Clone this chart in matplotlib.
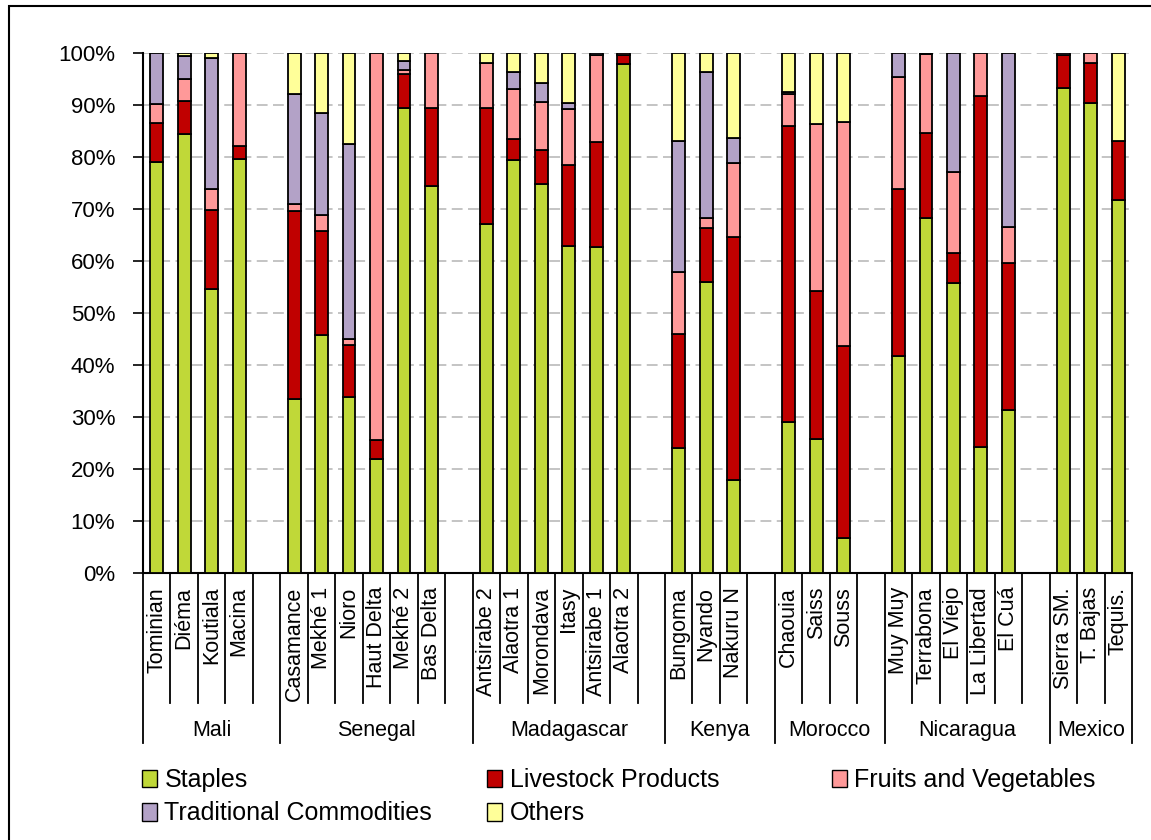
import numpy as np
import matplotlib
matplotlib.use("Agg")
import matplotlib.pyplot as plt
from matplotlib.patches import Rectangle, Patch
import matplotlib.transforms as mtransforms

plt.rcParams['font.family'] = ['Liberation Sans', 'DejaVu Sans']

countries = ["Mali", "Senegal", "Madagascar", "Kenya", "Morocco", "Nicaragua", "Mexico"]
group_sizes = [4, 6, 6, 3, 3, 5, 3]
regions = ["Tominian", "Diéma", "Koutiala", "Macina",
           "Casamance", "Mekhé 1", "Nioro", "Haut Delta", "Mekhé 2", "Bas Delta",
           "Antsirabe 2", "Alaotra 1", "Morondava", "Itasy", "Antsirabe 1", "Alaotra 2",
           "Bungoma", "Nyando", "Nakuru N",
           "Chaouia", "Saiss", "Souss",
           "Muy Muy", "Terrabona", "El Viejo", "La Libertad", "El Cuá",
           "Sierra SM.", "T. Bajas", "Tequis."]

staples = [79.0, 84.5, 54.6, 79.7,
           33.5, 45.7, 33.9, 22.0, 89.4, 74.5,
           67.1, 79.4, 74.9, 62.9, 62.7, 97.8,
           24.0, 56.0, 17.9,
           29.0, 25.8, 6.7,
           41.8, 68.2, 55.8, 24.3, 31.3,
           93.2, 90.4, 71.7]
livestock = [7.6, 6.3, 15.3, 2.4,
             36.1, 20.1, 10.0, 3.6, 6.5, 15.0,
             22.4, 4.1, 6.5, 15.5, 20.2, 1.8,
             21.9, 10.4, 46.8,
             56.9, 28.5, 36.9,
             32.0, 16.4, 5.8, 67.5, 28.3,
             6.4, 7.7, 11.4]
fruits_veg = [3.5, 4.2, 3.9, 17.9,
              1.4, 3.1, 1.1, 74.4, 0.9, 10.5,
              8.6, 9.5, 9.1, 10.8, 16.7, 0.4,
              11.9, 1.9, 14.1,
              6.3, 32.0, 43.1,
              21.6, 15.2, 15.6, 8.2, 7.0,
              0.0, 1.9, 0.0]
traditional = [9.9, 4.5, 25.3, 0.0,
               21.2, 19.5, 37.5, 0.0, 1.7, 0.0,
               0.0, 3.3, 3.8, 1.1, 0.4, 0.0,
               25.3, 28.0, 4.9,
               0.3, 0.0, 0.0,
               4.6, 0.2, 22.8, 0.0, 33.4,
               0.4, 0.0, 0.0]
others = [0.0, 0.5, 0.9, 0.0,
          7.8, 11.6, 17.5, 0.0, 1.5, 0.0,
          1.9, 3.7, 5.7, 9.7, 0.0, 0.0,
          16.9, 3.7, 16.3,
          7.5, 13.7, 13.3,
          0.0, 0.0, 0.0, 0.0, 0.0,
          0.0, 0.0, 16.9]

series = [("Staples", staples, "#C0D838"),
          ("Livestock Products", livestock, "#C00000"),
          ("Fruits and Vegetables", fruits_veg, "#FF9999"),
          ("Traditional Commodities", traditional, "#B3A2C7"),
          ("Others", others, "#FFFF99")]

# slot positions: one empty slot after every country group
xpos = []
group_edges = [-0.5]
slot = 0
for n in group_sizes:
    xpos += list(range(slot, slot + n))
    slot += n + 1
    group_edges.append(slot - 0.5)
nslots = slot - 1
group_edges[-1] = nslots - 0.5
xpos = np.array(xpos)

W, H = 1151, 840
fig = plt.figure(figsize=(W / 100, H / 100), dpi=100)
ax = fig.add_axes([143 / W, 1 - 573 / H, (1132 - 143) / W, (573 - 53) / H])

bottom = np.zeros(len(regions))
for name, vals, col in series:
    vals = np.array(vals)
    lw = [1.3 if v > 0 else 0 for v in vals]
    ax.bar(xpos, vals, 0.47, bottom=bottom, color=col, edgecolor="black",
           linewidth=lw, zorder=3)
    bottom += vals

ax.set_xlim(-0.5, nslots - 0.5)
ax.set_ylim(0, 100)
ax.set_yticks(np.arange(0, 101, 10))
ax.set_yticklabels([f"{v}%" for v in range(0, 101, 10)], fontsize=16)
ax.tick_params(axis="y", length=7, width=1.2, pad=13)
ax.yaxis.grid(True, linestyle=(0, (6, 3)), color="#BFBFBF", linewidth=1.3, zorder=0)
for s in ["top", "right"]:
    ax.spines[s].set_visible(False)
ax.spines["left"].set_linewidth(1.5)
ax.spines["bottom"].set_linewidth(1.5)

ax.set_xticks(xpos)
ax.set_xticklabels(regions, rotation=90, fontsize=15.5, va="top")
ax.tick_params(axis="x", length=0, pad=10)

# category separators under the axis
trans = mtransforms.blended_transform_factory(ax.transData, ax.transAxes)
for b in np.arange(-0.5, nslots, 1.0):
    if any(abs(b - g) < 1e-6 for g in group_edges):
        continue
    ax.plot([b, b], [0, -0.25], transform=trans, color="black", lw=1.3, clip_on=False)
for g in group_edges:
    ax.plot([g, g], [0, -0.327], transform=trans, color="black", lw=1.3, clip_on=False)
for i, c in enumerate(countries):
    xc = (group_edges[i] + group_edges[i + 1]) / 2
    ax.text(xc, -0.302, c, transform=trans, ha="center", va="center", fontsize=15.5)

# legend as three equal-width columns
cols = [[0, 3], [1, 4], [2]]
for k, idx in enumerate(cols):
    handles = [Patch(facecolor=series[j][2], edgecolor="black", linewidth=1.0,
                     label=series[j][0]) for j in idx]
    fig.legend(handles=handles, loc="upper left",
               bbox_to_anchor=((142 + 345 * k) / W, 1 - 768 / H),
               frameon=False, fontsize=18, handlelength=0.6, handleheight=0.7,
               handletextpad=0.3, labelspacing=0.38, borderpad=0, borderaxespad=0)

# outer chart border (right and bottom sides fall outside the image)
fig.patches.append(Rectangle((9 / W, -0.05), 1.1, 1.05 - 6 / H,
                             transform=fig.transFigure, fill=False,
                             edgecolor="black", linewidth=1.5))

fig.savefig("out.png", dpi=100)
